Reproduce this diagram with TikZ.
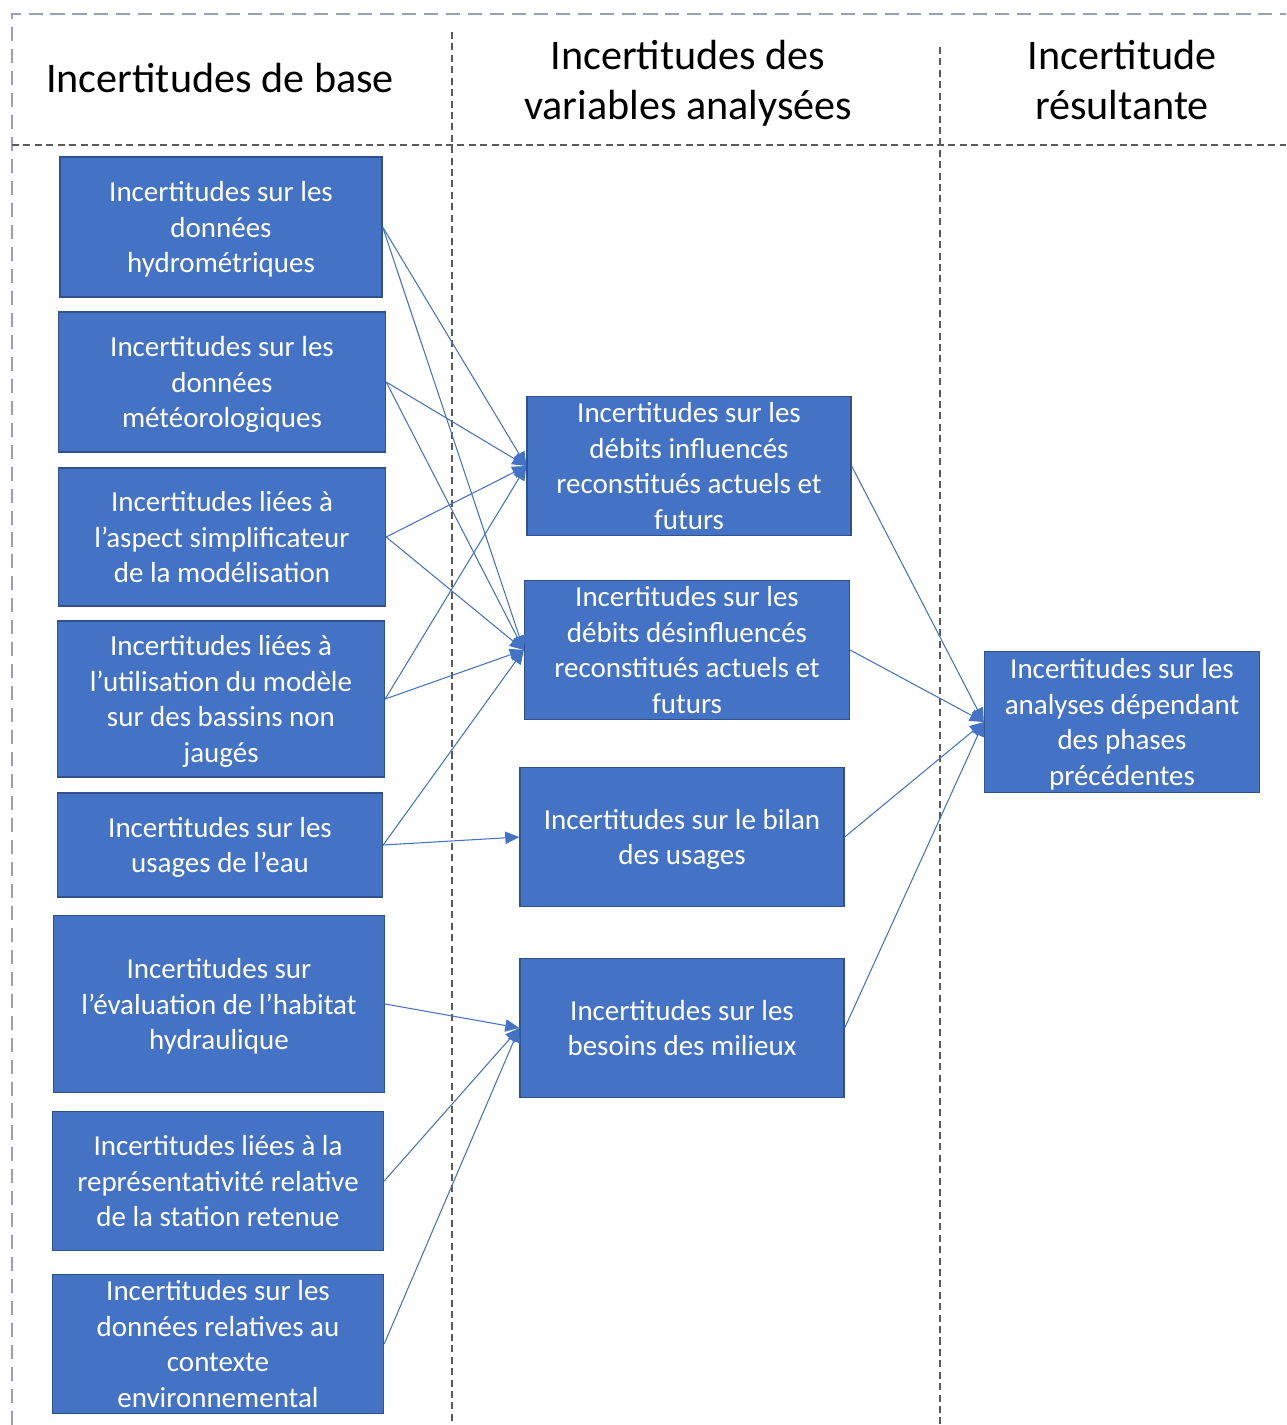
\documentclass[tikz,border=0pt]{standalone}
\usepackage{fontspec}
\setmainfont{Carlito}
\usepackage{tikz}
\usetikzlibrary{positioning, arrows.meta}
\definecolor{OfficeBlue}{HTML}{4472C4}
\definecolor{OfficeEdge}{HTML}{2F528F}
\definecolor{FrameGray}{HTML}{5A5A5A}
\definecolor{FrameLight}{HTML}{9A9FB5}

\tikzset{
  ubox/.style={draw=OfficeEdge, line width=0.8pt, fill=OfficeBlue, text=white, align=center, inner sep=2pt, text depth=0pt, font=\fontsize{16.5}{20.2}\selectfont},
  ulink/.style={OfficeBlue, line width=0.6pt, -{Triangle[length=8pt, width=7pt]}},
  uhead/.style={align=center, font=\fontsize{24}{28.5}\selectfont},
  uframe/.style={FrameGray, line width=0.6pt, dash pattern=on 4pt off 2.5pt}
}

\begin{document}
\begin{tikzpicture}[x=0.02cm, y=-0.02cm]
  \useasboundingbox (0,0) rectangle (1286,1425);

  % Frame & column dividers
  \draw[FrameLight, line width=0.7pt, dash pattern=on 8pt off 4.5pt] (12,1425) -- (12,14) -- (1286,14);
  \draw[uframe] (12,145) -- (1286,145);
  \draw[uframe] (452,32) -- (452,1425);
  \draw[uframe] (940,47) -- (940,1425);

  % Column headers
  \node[uhead] (hbase) at (220,78) {Incertitudes de base};
  \node[uhead] (hvar) at (688,83) {Incertitudes des\\variables analysées};
  \node[uhead] (hres) at (1122,80) {Incertitude\\résultante};

  % Base uncertainties
  \node[ubox, minimum width=6.44cm, minimum height=2.8cm] (hydro) at (221,227) {Incertitudes sur les\\données\\hydrométriques};
  \node[ubox, minimum width=6.54cm, minimum height=2.8cm] (meteo) at (222,382) {Incertitudes sur les\\données\\météorologiques};
  \node[ubox, minimum width=6.54cm, minimum height=2.76cm] (simpl) at (222,537) {Incertitudes liées à\\l’aspect simplificateur\\de la modélisation};
  \node[ubox, minimum width=6.54cm, minimum height=3.12cm] (nonjauge) at (221,699) {Incertitudes liées à\\l’utilisation du modèle\\sur des bassins non\\jaugés};
  \node[ubox, minimum width=6.5cm, minimum height=2.08cm] (usages) at (220,845) {Incertitudes sur les\\usages de l’eau};
  \node[ubox, minimum width=6.62cm, minimum height=3.54cm] (habitat) at (219,1004) {Incertitudes sur\\l’évaluation de l’habitat\\hydraulique};
  \node[ubox, minimum width=6.62cm, minimum height=2.78cm] (station) at (218,1181) {Incertitudes liées à la\\représentativité relative\\de la station retenue};
  \node[ubox, minimum width=6.62cm, minimum height=2.78cm] (contexte) at (218,1344) {Incertitudes sur les\\données relatives au\\contexte\\environnemental};

  % Analysed variables
  \node[ubox, minimum width=6.48cm, minimum height=2.78cm] (influ) at (689,466) {Incertitudes sur les\\débits influencés\\reconstitués actuels et\\futurs};
  \node[ubox, minimum width=6.5cm, minimum height=2.78cm] (desinflu) at (687,650) {Incertitudes sur les\\débits désinfluencés\\reconstitués actuels et\\futurs};
  \node[ubox, minimum width=6.48cm, minimum height=2.78cm] (bilan) at (682,837) {Incertitudes sur le bilan\\des usages};
  \node[ubox, minimum width=6.48cm, minimum height=2.78cm] (besoins) at (682,1028) {Incertitudes sur les\\besoins des milieux};

  % Resulting uncertainty
  \node[ubox, minimum width=5.5cm, minimum height=2.82cm] (analyses) at (1122,722) {Incertitudes sur les\\analyses dépendant\\des phases\\précédentes};

  % Links
  \foreach \src in {hydro, meteo, simpl, nonjauge} {
    \draw[ulink] (\src.east) -- (influ.west);
  }
  \foreach \src in {hydro, meteo, simpl, nonjauge, usages} {
    \draw[ulink] (\src.east) -- (desinflu.west);
  }
  \draw[ulink] (usages.east) -- (bilan.west);
  \foreach \src in {habitat, station, contexte} {
    \draw[ulink] (\src.east) -- (besoins.west);
  }
  \foreach \src in {influ, desinflu, bilan, besoins} {
    \draw[ulink] (\src.east) -- (analyses.west);
  }
\end{tikzpicture}
\end{document}
